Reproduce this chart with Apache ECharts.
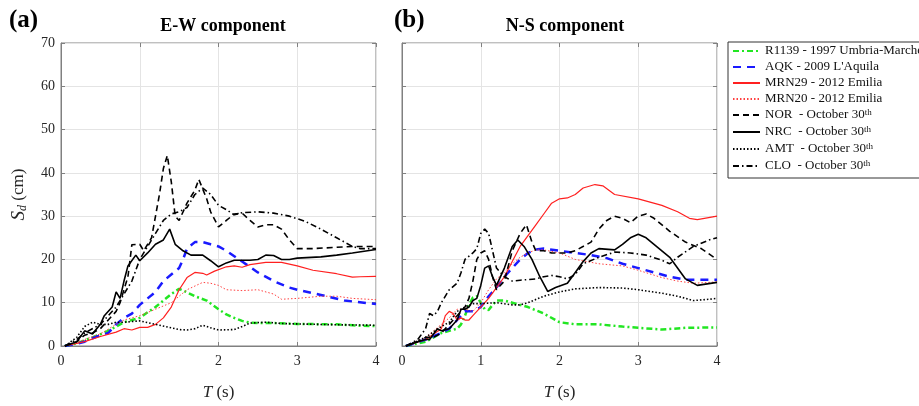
<!DOCTYPE html>
<html>
<head>
<meta charset="utf-8">
<script src="https://cdn.jsdelivr.net/npm/echarts@6/dist/echarts.min.js"></script>
<style>html,body{margin:0;padding:0;background:#fff}#c{width:919px;height:406px}</style>
</head>
<body>
<div id="c"></div>
<script>
// ---------- DATA ([T (s), Sd (cm)]) ----------
const seriesNames = ['R1139 - 1997 Umbria-Marche','AQK - 2009 L\'Aquila','MRN29 - 2012 Emilia','MRN20 - 2012 Emilia','NOR  - October 30th','NRC  - October 30th','AMT  - October 30th','CLO  - October 30th'];
const xTicks = [0,1,2,3,4];
const yTicks = [0,10,20,30,40,50,60,70];

// E-W component
const ew_R1139 = [[0.05,0],[0.2,0.6],[0.3,1.3],[0.4,2],[0.5,2.7],[0.6,3.5],[0.7,4.5],[0.8,5.5],[0.9,6],[1.0,6.5],[1.1,7.8],[1.2,9],[1.3,10.5],[1.4,12],[1.5,13.2],[1.6,12.4],[1.7,11.5],[1.85,10.5],[2.0,8.5],[2.1,7.3],[2.2,6.5],[2.3,5.8],[2.4,5.4],[2.5,5.3],[2.7,5.3],[3.0,5.1],[3.5,5.0],[3.8,4.7],[4.0,4.6]];
const ew_AQK = [[0.05,0],[0.2,0.5],[0.3,1],[0.4,1.8],[0.5,2.5],[0.6,3],[0.7,5],[0.8,6.5],[0.9,7.5],[1.0,9.5],[1.1,11],[1.2,12.5],[1.3,15],[1.4,16.5],[1.5,18],[1.55,20],[1.6,22.5],[1.7,24],[1.8,24],[1.9,23.5],[2.0,23],[2.1,22],[2.3,19.5],[2.5,17],[2.7,15],[2.9,13.5],[3.0,13],[3.3,11.8],[3.6,10.5],[4.0,9.7]];
const ew_MRN29 = [[0.05,0],[0.2,0.6],[0.3,1],[0.5,2.2],[0.7,3.2],[0.8,4],[0.9,3.7],[1.0,4.3],[1.1,4.3],[1.2,5],[1.3,6.5],[1.4,9],[1.5,13],[1.6,15.8],[1.7,17],[1.8,16.8],[1.85,16.4],[1.95,17.3],[2.1,18.3],[2.2,18.5],[2.3,18.2],[2.4,18.8],[2.6,19.3],[2.8,19.3],[3.0,18.5],[3.2,17.5],[3.5,16.7],[3.7,15.9],[3.8,16],[4.0,16.1]];
const ew_MRN20 = [[0.05,0],[0.2,0.8],[0.3,1.5],[0.5,2.8],[0.7,5],[0.8,6],[0.9,6.5],[1.0,7],[1.2,8.5],[1.4,10],[1.5,11.5],[1.6,13],[1.8,14.7],[1.9,14.5],[2.0,14],[2.1,13],[2.3,12.8],[2.5,13],[2.7,12],[2.8,10.8],[3.0,11],[3.3,11.5],[3.5,11.5],[3.7,11],[4.0,10.7]];
const ew_NOR = [[0.05,0],[0.2,1],[0.3,2.5],[0.4,3],[0.5,4],[0.6,6],[0.7,8],[0.75,10],[0.85,16],[0.9,23.4],[1.0,23.5],[1.05,22],[1.15,25],[1.25,35],[1.3,41],[1.35,44],[1.4,38],[1.45,30],[1.5,29],[1.6,33],[1.7,36],[1.75,38.5],[1.85,34],[1.9,31],[2.0,27.5],[2.1,29],[2.2,30.5],[2.3,30.7],[2.4,29],[2.5,27.5],[2.6,28],[2.7,28],[2.8,27],[2.9,24.5],[3.0,22.5],[3.2,22.5],[3.5,22.8],[3.7,23],[4.0,23]];
const ew_NRC = [[0.05,0],[0.2,1],[0.3,3.5],[0.4,2.8],[0.5,5],[0.55,7],[0.65,9],[0.7,12.5],[0.75,11],[0.8,15],[0.85,18.5],[0.95,21],[1.0,19.7],[1.1,21.5],[1.2,23.5],[1.3,24.5],[1.38,27],[1.45,23.5],[1.55,22],[1.65,21],[1.8,21],[1.9,19.7],[2.0,18.3],[2.1,19.2],[2.2,19.8],[2.4,19.8],[2.5,20],[2.6,21],[2.7,20.9],[2.8,20],[2.9,20],[3.0,20.3],[3.3,20.6],[3.5,21],[3.7,21.5],[4.0,22.3]];
const ew_AMT = [[0.05,0],[0.2,2],[0.3,4.5],[0.4,5.5],[0.5,5],[0.6,5],[0.7,5.5],[0.8,5.5],[1.0,5.8],[1.2,5],[1.4,4.2],[1.5,3.8],[1.6,3.7],[1.7,4],[1.8,4.8],[1.9,4.2],[2.0,3.7],[2.2,3.8],[2.3,4.5],[2.4,5.3],[2.6,5.5],[2.8,5.2],[3.0,5.1],[3.5,4.9],[4.0,4.8]];
const ew_CLO = [[0.05,0],[0.2,1.5],[0.3,3],[0.5,5],[0.7,9],[0.8,12],[0.9,15],[1.0,20],[1.1,23],[1.2,26],[1.3,29],[1.4,30.5],[1.5,31],[1.6,32],[1.7,35],[1.8,36.5],[1.9,35],[2.0,32.5],[2.1,31.5],[2.2,30.3],[2.3,30.8],[2.5,31],[2.7,30.7],[2.9,30],[3.1,28.8],[3.3,27],[3.5,25],[3.7,23],[3.8,22.5],[4.0,22.5]];

// N-S component
const ns_R1139 = [[0.05,0],[0.3,1],[0.4,2],[0.5,3],[0.6,3.5],[0.7,4],[0.75,5],[0.8,7],[0.85,9.5],[0.9,11.2],[0.95,11.5],[1.0,10],[1.05,8.5],[1.1,8.3],[1.15,9.5],[1.2,10.5],[1.3,10.5],[1.4,10],[1.6,9],[1.8,7.5],[2.0,5.5],[2.2,5],[2.5,5],[2.8,4.5],[3.0,4.2],[3.3,3.8],[3.6,4.2],[4.0,4.3]];
const ns_AQK = [[0.05,0],[0.3,1.5],[0.5,3],[0.6,4],[0.7,6],[0.8,8],[0.9,8],[1.0,9],[1.1,11.5],[1.2,13.5],[1.3,16],[1.4,18],[1.5,20],[1.6,21.5],[1.7,22.3],[1.8,22.5],[2.0,22],[2.2,21.5],[2.4,21],[2.6,20.3],[2.8,19],[3.0,18],[3.2,17],[3.4,16],[3.6,15.3],[4.0,15.3]];
const ns_MRN29 = [[0.05,0],[0.3,1.5],[0.5,4],[0.55,7],[0.6,8],[0.65,7.5],[0.7,6],[0.75,6.5],[0.8,6],[0.85,6],[0.9,7],[1.0,9],[1.1,11],[1.2,13.5],[1.3,16],[1.4,19.5],[1.5,23],[1.6,25.5],[1.7,28],[1.8,30.5],[1.9,33],[2.0,34],[2.1,34.2],[2.2,35],[2.3,36.5],[2.45,37.3],[2.55,37],[2.7,35],[3.0,34],[3.3,32.5],[3.5,31],[3.65,29.5],[3.75,29.2],[4.0,30]];
const ns_MRN20 = [[0.05,0],[0.3,2],[0.5,5],[0.6,6.5],[0.7,8.5],[0.8,8.5],[0.9,8],[1.0,10],[1.1,13],[1.2,15.5],[1.3,17],[1.4,19],[1.5,20.5],[1.6,21.5],[1.7,22.2],[1.8,22.2],[2.0,21.5],[2.2,20],[2.5,19],[2.8,18.5],[3.0,17.5],[3.3,15.8],[3.5,15],[3.7,14.5],[4.0,14.8]];
const ns_NOR = [[0.05,0],[0.2,1],[0.3,2],[0.4,2],[0.5,3],[0.6,5],[0.7,7],[0.8,9],[0.85,11],[0.9,15],[0.95,20],[1.0,21.5],[1.05,22],[1.1,20],[1.15,16],[1.2,13],[1.3,15],[1.4,22],[1.5,26],[1.58,28],[1.65,24],[1.7,22],[1.8,22],[1.9,21.5],[2.0,21.5],[2.1,21.5],[2.2,22],[2.4,24],[2.5,27],[2.6,29],[2.7,30],[2.8,29.5],[2.9,28.5],[3.0,30],[3.1,30.5],[3.2,29.5],[3.4,26.5],[3.6,24],[3.8,22.5],[4.0,20]];
const ns_NRC = [[0.05,0],[0.2,1],[0.3,1.5],[0.35,1.5],[0.45,4],[0.5,3.5],[0.6,4],[0.7,6],[0.75,8.5],[0.8,8.5],[0.85,9],[0.9,10.5],[0.95,11],[1.0,14],[1.05,18],[1.1,18.5],[1.15,16],[1.2,14],[1.3,18],[1.4,23],[1.47,24.5],[1.55,23],[1.65,20],[1.75,16],[1.85,12.6],[1.95,13.5],[2.1,14.5],[2.2,17],[2.3,19.5],[2.4,21.5],[2.5,22.5],[2.7,22.2],[2.8,23.5],[2.9,25],[3.0,25.8],[3.1,25],[3.2,23.5],[3.4,20.5],[3.6,15.5],[3.75,14],[4.0,14.7]];
const ns_AMT = [[0.05,0],[0.3,2],[0.5,4.5],[0.6,5.5],[0.7,8],[0.8,9],[0.9,9.8],[1.0,9.8],[1.2,10],[1.4,9.5],[1.5,9.5],[1.6,10],[1.8,11.5],[2.0,12.5],[2.2,13.2],[2.5,13.5],[2.8,13.4],[3.0,13],[3.3,12.2],[3.5,11.5],[3.7,10.5],[3.9,10.8],[4.0,11]];
const ns_CLO = [[0.05,0],[0.2,1.5],[0.3,4],[0.35,7.5],[0.4,7],[0.45,8],[0.5,10],[0.6,13],[0.7,14.5],[0.75,17],[0.8,20],[0.9,21.5],[0.95,22.5],[1.0,26],[1.05,27],[1.1,26],[1.15,22],[1.2,18],[1.3,16],[1.4,15],[1.5,15.2],[1.7,15.5],[1.8,16],[1.9,16.3],[2.0,16],[2.1,15.5],[2.2,16.5],[2.3,19],[2.5,20.5],[2.7,21.7],[2.9,21.5],[3.1,21],[3.3,19.8],[3.4,19],[3.5,20.5],[3.7,23],[3.9,24.5],[4.0,25]];

// ---------- STYLES ----------
const styles = [
  {color:'#22e622', width:2.5, type:[6,3,2,3]},
  {color:'#1a1aff', width:2.5, type:[8,6]},
  {color:'#ff2020', width:1.2, type:'solid'},
  {color:'#ff4040', width:1, type:[1.5,2]},
  {color:'#000000', width:1.6, type:[6,4]},
  {color:'#000000', width:1.6, type:'solid'},
  {color:'#000000', width:1.6, type:[1.5,2]},
  {color:'#000000', width:1.6, type:[6,3,1.5,3]}
];
const ewData = [ew_R1139, ew_AQK, ew_MRN29, ew_MRN20, ew_NOR, ew_NRC, ew_AMT, ew_CLO];
const nsData = [ns_R1139, ns_AQK, ns_MRN29, ns_MRN20, ns_NOR, ns_NRC, ns_AMT, ns_CLO];

const FONT = 'Liberation Serif';
const AX = '#808080';

function mkSeries(dataSets, axisIdx) {
  return dataSets.map((d, i) => ({
    name: seriesNames[i], type: 'line', data: d,
    xAxisIndex: axisIdx, yAxisIndex: axisIdx,
    showSymbol: false, symbol: 'none', smooth: false, animation: false,
    lineStyle: {color: styles[i].color, width: styles[i].width, type: styles[i].type},
    itemStyle: {color: styles[i].color},
    z: 3 + i
  }));
}

const grids = [
  {left: 61, width: 315, top: 43, height: 309, show: true, borderColor: AX, borderWidth: 1},
  {left: 402, width: 315, top: 43, height: 309, show: true, borderColor: AX, borderWidth: 1}
];

function mainX(g) {
  return {type: 'value', gridIndex: g, min: 0, max: 4, interval: 1, position: 'bottom',
    name: '{i|T} (s)', nameLocation: 'middle', nameGap: 38,
    nameTextStyle: {fontFamily: FONT, fontSize: 17, color: '#262626', rich: {i: {fontFamily: FONT, fontStyle: 'italic', fontSize: 17, color: '#262626'}}},
    axisLine: {show: true, onZero: false, lineStyle: {color: AX}},
    axisTick: {show: true, inside: true, length: 4, lineStyle: {color: AX}},
    axisLabel: {fontFamily: FONT, fontSize: 14, color: '#262626', margin: 8},
    splitLine: {show: true, lineStyle: {color: '#e4e4e4', width: 1}}};
}
function topX(g) {
  return {type: 'value', gridIndex: g, min: 0, max: 4, interval: 1, position: 'top',
    axisLine: {show: false, onZero: false}, axisTick: {show: true, inside: true, length: 4, lineStyle: {color: AX}},
    axisLabel: {show: false}, splitLine: {show: false}};
}
function mainY(g, labels) {
  const o = {type: 'value', gridIndex: g, min: 0, max: 70, interval: 10, position: 'left',
    axisLine: {show: true, onZero: false, lineStyle: {color: AX}},
    axisTick: {show: true, inside: true, length: 4, lineStyle: {color: AX}},
    axisLabel: {show: labels, fontFamily: FONT, fontSize: 14, color: '#262626', margin: 6},
    splitLine: {show: true, lineStyle: {color: '#e4e4e4', width: 1}}};
  if (labels) {
    o.name = '{i|S}{s|d} (cm)';
    o.nameLocation = 'middle';
    o.nameGap = 32;
    o.nameRotate = 90;
    o.nameTextStyle = {fontFamily: FONT, fontSize: 17, color: '#262626',
      rich: {i: {fontFamily: FONT, fontStyle: 'italic', fontSize: 19, color: '#262626'},
             s: {fontFamily: FONT, fontStyle: 'italic', fontSize: 12, color: '#262626', padding: [8, 0, 0, 0]}}};
  }
  return o;
}
function rightY(g) {
  return {type: 'value', gridIndex: g, min: 0, max: 70, interval: 10, position: 'right',
    axisLine: {show: false, onZero: false}, axisTick: {show: true, inside: true, length: 4, lineStyle: {color: AX}},
    axisLabel: {show: false}, splitLine: {show: false}};
}

const option = {
  animation: false,
  backgroundColor: '#ffffff',
  title: [
    {text: '(a)', left: 4, top: 3, textStyle: {fontFamily: FONT, fontWeight: 'bold', fontSize: 25, color: '#000'}},
    {text: 'E-W component', left: 218, top: 12, textAlign: 'center', textStyle: {fontFamily: FONT, fontWeight: 'bold', fontSize: 18, color: '#000'}},
    {text: '(b)', left: 389, top: 3, textStyle: {fontFamily: FONT, fontWeight: 'bold', fontSize: 25, color: '#000'}},
    {text: 'N-S component', left: 560, top: 12, textAlign: 'center', textStyle: {fontFamily: FONT, fontWeight: 'bold', fontSize: 18, color: '#000'}}
  ],
  legend: {
    data: seriesNames, orient: 'vertical', left: 728, top: 42,
    itemWidth: 27, itemHeight: 10, itemGap: 2,
    padding: [2, 0, 4, 4], borderColor: '#333', borderWidth: 1,
    selectedMode: false,
    itemStyle: {opacity: 0, borderWidth: 0},
    formatter: function (n) {
      if (n.indexOf('October 30th') >= 0) {
        return '{t|' + n.replace('30th', '30') + '}{p|th}';
      }
      return '{t|' + n + '}';
    },
    textStyle: {fontFamily: FONT, fontSize: 13, color: '#111', lineHeight: 14,
      rich: {t: {fontFamily: FONT, fontSize: 13, color: '#111', lineHeight: 14},
             p: {fontFamily: FONT, fontSize: 9, color: '#111', lineHeight: 10, verticalAlign: 'top', padding: [0, 0, 6, 0]}}}
  },
  grid: grids,
  xAxis: [mainX(0), mainX(1), topX(0), topX(1)],
  yAxis: [mainY(0, true), mainY(1, false), rightY(0), rightY(1)],
  series: [].concat(mkSeries(ewData, 0), mkSeries(nsData, 1))
};

const chart = echarts.init(document.getElementById('c'), null, {renderer: 'canvas'});
chart.setOption(option);
</script>
</body>
</html>
